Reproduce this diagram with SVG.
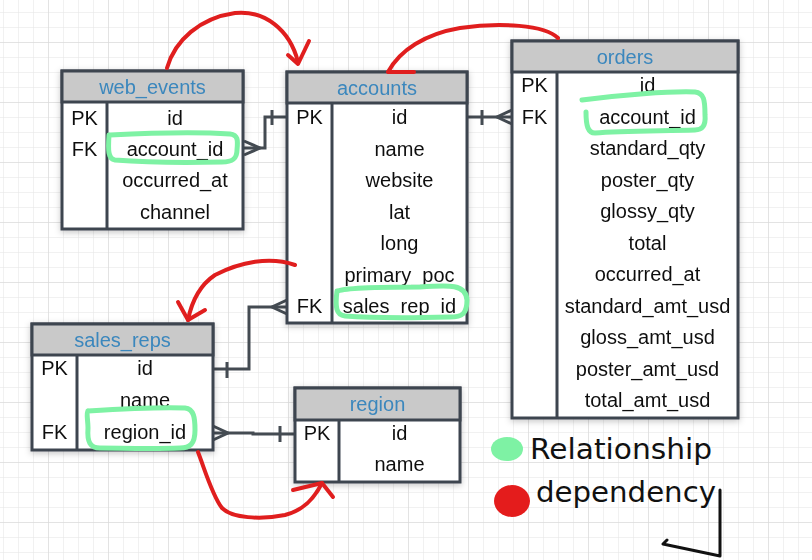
<svg xmlns="http://www.w3.org/2000/svg" width="812" height="560" viewBox="0 0 812 560">
<defs>
<pattern id="gMinor" x="3" y="12" width="15" height="15" patternUnits="userSpaceOnUse">
<path d="M0 0H15M0 0V15" fill="none" stroke="#e4e4e4" stroke-width="1"/>
</pattern>
<pattern id="gMajor" x="48" y="42" width="60" height="60" patternUnits="userSpaceOnUse">
<path d="M0 0H60M0 0V60" fill="none" stroke="#d6d6d6" stroke-width="1"/>
</pattern>
<filter id="sh" x="-10%" y="-10%" width="120%" height="120%">
<feDropShadow dx="0" dy="2" stdDeviation="3" flood-color="#000" flood-opacity="0.22"/>
</filter>
<style>
.box{fill:#fff;stroke:#3c4450;stroke-width:3}
.hdr{fill:#c9c9c9;stroke:#3c4450;stroke-width:3}
.ln{stroke:#3c4450;stroke-width:3;fill:none}
.title{font-family:"Liberation Sans",Arial,sans-serif;font-size:20px;fill:#3b87bd;text-anchor:middle}
.t{font-family:"Liberation Sans",Arial,sans-serif;font-size:20px;fill:#111;text-anchor:middle}
.conn{stroke:#444b52;stroke-width:3;fill:none}
.red{stroke:#e01e1e;stroke-width:4;fill:none;stroke-linecap:round;stroke-linejoin:round}
.green{stroke:#7ef2a4;stroke-width:5;fill:none;stroke-linecap:round;stroke-linejoin:round}
.hand{font-family:"DejaVu Sans",sans-serif;font-size:28px;fill:#111}
</style>
</defs>
<rect width="812" height="560" fill="#fff"/>
<rect width="812" height="560" fill="url(#gMinor)"/>
<rect width="812" height="560" fill="url(#gMajor)"/>

<g id="connectors">
<path class="conn" d="M244 148H265V117H287"/>
<path class="conn" d="M272 110V125"/>
<path class="conn" d="M244 141L260 148L244 155"/>
<path class="conn" d="M467 117H512"/>
<path class="conn" d="M482 110V125"/>
<path class="conn" d="M512 110L497 117L512 124"/>
<path class="conn" d="M213 369H249V307H287"/>
<path class="conn" d="M227 362V378"/>
<path class="conn" d="M287 300L272 307L287 314"/>
<path class="conn" d="M213 433H253V434H295"/>
<path class="conn" d="M280 426V442"/>
<path class="conn" d="M213 426L228 433L213 440"/>
</g>

<g id="web_events" filter="url(#sh)">
<rect class="box" x="62" y="71" width="181" height="158"/>
<rect class="hdr" x="62" y="71" width="181" height="31"/>
<path class="ln" d="M107 102V229"/>
<text class="title" x="152.5" y="93.5">web_events</text>
<text class="t" x="84.5" y="124.5">PK</text>
<text class="t" x="84.5" y="156">FK</text>
<text class="t" x="175" y="124.5">id</text>
<text class="t" x="175" y="156">account_id</text>
<text class="t" x="175" y="187">occurred_at</text>
<text class="t" x="175" y="218.5">channel</text>
</g>

<g id="accounts" filter="url(#sh)">
<rect class="box" x="287" y="72" width="180" height="251"/>
<rect class="hdr" x="287" y="72" width="180" height="31"/>
<path class="ln" d="M332 103V323"/>
<text class="title" x="377" y="94.5">accounts</text>
<text class="t" x="309.5" y="124">PK</text>
<text class="t" x="309.5" y="313">FK</text>
<text class="t" x="399.5" y="124">id</text>
<text class="t" x="399.5" y="155.5">name</text>
<text class="t" x="399.5" y="187">website</text>
<text class="t" x="399.5" y="218.5">lat</text>
<text class="t" x="399.5" y="250">long</text>
<text class="t" x="399.5" y="281.5">primary_poc</text>
<text class="t" x="399.5" y="313">sales_rep_id</text>
</g>

<g id="orders" filter="url(#sh)">
<rect class="box" x="512" y="41" width="226" height="377"/>
<rect class="hdr" x="512" y="41" width="226" height="31"/>
<path class="ln" d="M557 72V418"/>
<text class="title" x="625" y="63.5">orders</text>
<text class="t" x="534.5" y="92">PK</text>
<text class="t" x="534.5" y="123.5">FK</text>
<text class="t" x="647.5" y="92">id</text>
<text class="t" x="647.5" y="123.5">account_id</text>
<text class="t" x="647.5" y="155">standard_qty</text>
<text class="t" x="647.5" y="186.5">poster_qty</text>
<text class="t" x="647.5" y="218">glossy_qty</text>
<text class="t" x="647.5" y="249.5">total</text>
<text class="t" x="647.5" y="281">occurred_at</text>
<text class="t" x="647.5" y="312.5">standard_amt_usd</text>
<text class="t" x="647.5" y="344">gloss_amt_usd</text>
<text class="t" x="647.5" y="375.5">poster_amt_usd</text>
<text class="t" x="647.5" y="407">total_amt_usd</text>
</g>

<g id="sales_reps" filter="url(#sh)">
<rect class="box" x="32" y="324" width="181" height="126"/>
<rect class="hdr" x="32" y="324" width="181" height="31"/>
<path class="ln" d="M77 355V450"/>
<text class="title" x="122.5" y="346.5">sales_reps</text>
<text class="t" x="54.5" y="375">PK</text>
<text class="t" x="54.5" y="439">FK</text>
<text class="t" x="145" y="375">id</text>
<text class="t" x="145" y="407">name</text>
<text class="t" x="145" y="439">region_id</text>
</g>

<g id="region" filter="url(#sh)">
<rect class="box" x="295" y="388" width="165" height="94"/>
<rect class="hdr" x="295" y="388" width="165" height="32"/>
<path class="ln" d="M339 420V482"/>
<text class="title" x="377.5" y="411">region</text>
<text class="t" x="317" y="440">PK</text>
<text class="t" x="399.5" y="440">id</text>
<text class="t" x="399.5" y="471">name</text>
</g>

<g id="highlights">
<path class="green" d="M110 135C150 133 200 132 230 134C238 135 238 140 237 150C237 159 232 162 222 162C180 163 140 162 115 160C108 159 108 150 109 135"/>
<path class="green" d="M338 291C345 288 380 287 420 287C450 285 466 284 467 300C467 314 462 317 450 317C410 318 370 318 345 316C336 315 335 307 337 291"/>
<path class="green" d="M582 100C620 95 670 91 695 92C704 93 705 100 705 115C706 126 702 130 695 130C660 131 620 131 595 133C588 133 586 126 586 112"/>
<path class="green" d="M88 411C120 409 160 407 185 408C194 409 195 418 195 430C195 444 190 448 180 448C150 449 120 448 100 448C90 448 87 442 88 428C88 420 86 413 88 411"/>
</g>

<g id="dependencies">
<path class="red" d="M167 68C175 40 200 18 235 13C265 10 290 30 298 62"/>
<path class="red" d="M288 55L298 64L309 41"/>
<path class="red" d="M558 38C545 25 500 22 460 28C425 34 400 50 388 72L414 72"/>
<path class="red" d="M295 265C270 256 240 262 215 275C200 285 192 300 188 320"/>
<path class="red" d="M178 302L188 320L205 310"/>
<path class="red" d="M198 452C205 470 212 495 222 508C232 518 260 520 285 515C305 510 315 497 322 483"/>
<path class="red" d="M293 490L322 483L333 497"/>
</g>

<g id="legend">
<ellipse cx="507" cy="449" rx="16" ry="12" fill="#7ef2a4"/>
<ellipse cx="512" cy="501" rx="18" ry="16" fill="#e41c1c"/>
<text class="hand" x="530" y="459" textLength="182" lengthAdjust="spacingAndGlyphs">Relationship</text>
<text class="hand" x="536" y="502" textLength="180" lengthAdjust="spacingAndGlyphs">dependency</text>
<path d="M720 490V556L663 544L667 540" fill="none" stroke="#111" stroke-width="3" stroke-linecap="round" stroke-linejoin="round"/>
</g>
</svg>
